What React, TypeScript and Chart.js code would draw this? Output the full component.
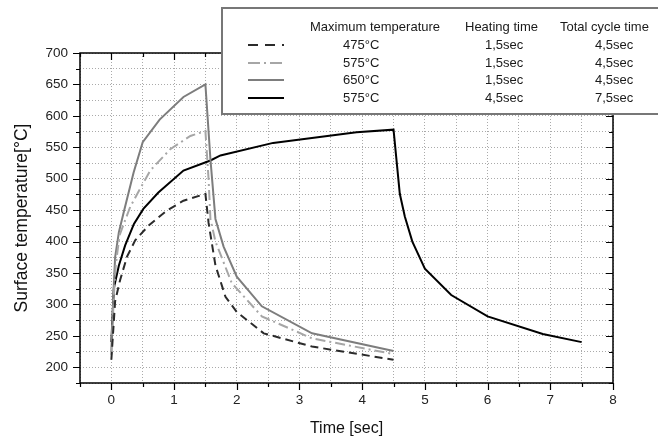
import React, { useEffect, useRef } from "react";
import { Chart, registerables } from "chart.js";

Chart.register(...registerables);

// ---- data ----
const time475 = [0, 0.06, 0.14, 0.25, 0.38, 0.6, 0.88, 1.15, 1.5, 1.55, 1.66, 1.82, 2.0, 2.43, 3.2, 4.5];
const temp475 = [212, 305, 339, 376, 402, 426, 449, 465, 476, 430, 362, 312, 288, 254, 233, 212];

const time575a = [0, 0.04, 0.07, 0.13, 0.3, 0.43, 0.62, 0.94, 1.26, 1.5, 1.55, 1.58, 1.66, 1.92, 2.4, 3.2, 4.5];
const temp575a = [220, 315, 362, 410, 455, 479, 513, 547, 568, 576, 500, 436, 400, 334, 281, 246, 221];

const time650 = [0, 0.03, 0.06, 0.12, 0.2, 0.355, 0.5, 0.77, 1.15, 1.5, 1.58, 1.66, 1.79, 2.0, 2.4, 3.2, 4.5];
const temp650 = [225, 310, 375, 415, 448, 510, 558, 594, 630, 650, 531, 436, 392, 344, 297, 254, 226];

const time575b = [0, 0.04, 0.12, 0.22, 0.36, 0.51, 0.75, 1.15, 1.58, 1.74, 2.58, 3.91, 4.5, 4.6, 4.68, 4.8, 5.0, 5.42, 6.0, 6.88, 7.5];
const temp575b = [240, 326, 362, 394, 428, 452, 478, 513, 529, 537, 557, 574, 578, 476, 440, 400, 357, 315, 281, 253, 240];

const legendHeader = ["Maximum temperature", "Heating time", "Total cycle time"];
const legendMaxTemp = ["475°C", "575°C", "650°C", "575°C"];
const legendHeating = ["1,5sec", "1,5sec", "1,5sec", "4,5sec"];
const legendCycle = ["4,5sec", "4,5sec", "4,5sec", "7,5sec"];

const xTitle = "Time [sec]";
const yTitle = "Surface temperature[°C]";

const FONT = "'Liberation Sans', Arial, sans-serif";

const seriesStyles = [
  { color: "#2b2b2b", dash: [8, 5] },
  { color: "#a6a6a6", dash: [10, 4, 2, 4] },
  { color: "#7d7d7d", dash: [] as number[] },
  { color: "#000000", dash: [] as number[] },
];

function pts(xs: number[], ys: number[]) {
  return xs.map((x, i) => ({ x, y: ys[i] }));
}

const framePlugin = {
  id: "frame",
  afterDatasetsDraw(chart: any) {
    const { ctx, chartArea } = chart;
    const { left, right, top, bottom } = chartArea;
    const xs = chart.scales.x;
    const ys = chart.scales.y;
    ctx.save();
    ctx.strokeStyle = "#000";
    ctx.lineWidth = 1.5;
    ctx.setLineDash([]);
    ctx.strokeRect(left, top, right - left, bottom - top);
    ctx.lineWidth = 1.2;
    ctx.beginPath();
    for (let v = -0.5; v <= 8.0001; v += 0.5) {
      const px = Math.round(xs.getPixelForValue(v)) + 0.5;
      const major = Math.abs(v - Math.round(v)) < 1e-6;
      const len = major ? 7 : 4;
      ctx.moveTo(px, bottom);
      ctx.lineTo(px, bottom + len);
      ctx.moveTo(px, top);
      ctx.lineTo(px, top + len);
    }
    for (let v = 175; v <= 700; v += 25) {
      const py = Math.round(ys.getPixelForValue(v)) + 0.5;
      const major = v % 50 === 0;
      const len = major ? 7 : 4;
      ctx.moveTo(left, py);
      ctx.lineTo(left - len, py);
      ctx.moveTo(right, py);
      ctx.lineTo(right - len, py);
    }
    ctx.stroke();
    ctx.restore();
  },
  afterDraw(chart: any) {
    const { ctx } = chart;
    ctx.save();
    // legend box
    ctx.fillStyle = "#fff";
    ctx.fillRect(222, 8, 460, 106);
    ctx.strokeStyle = "#777";
    ctx.lineWidth = 2;
    ctx.setLineDash([]);
    ctx.strokeRect(222, 8, 460, 106);
    ctx.fillStyle = "#1a1a1a";
    ctx.font = `13px ${FONT}`;
    ctx.textBaseline = "middle";
    ctx.textAlign = "left";
    ctx.fillText(legendHeader[0], 310, 27);
    ctx.fillText(legendHeader[1], 465, 27);
    ctx.fillText(legendHeader[2], 560, 27);
    const rowY = [45, 63, 80, 98];
    for (let i = 0; i < 4; i++) {
      const y = rowY[i];
      const st = seriesStyles[i];
      ctx.strokeStyle = st.color;
      ctx.lineWidth = 2;
      ctx.setLineDash(i === 0 ? [10, 7] : i === 1 ? [12, 4, 2, 4] : []);
      ctx.beginPath();
      ctx.moveTo(248, y);
      ctx.lineTo(284, y);
      ctx.stroke();
      ctx.setLineDash([]);
      ctx.fillText(legendMaxTemp[i], 343, y);
      ctx.fillText(legendHeating[i], 485, y);
      ctx.fillText(legendCycle[i], 595, y);
    }
    ctx.restore();
  },
};

export default function App() {
  const ref = useRef<HTMLCanvasElement | null>(null);
  useEffect(() => {
    if (!ref.current) return;
    const allX = [time475, time575a, time650, time575b];
    const allY = [temp475, temp575a, temp650, temp575b];
    const chart = new Chart(ref.current, {
      type: "line",
      data: {
        datasets: allX.map((xs, i) => ({
          label: legendMaxTemp[i],
          data: pts(xs, allY[i]),
          borderColor: seriesStyles[i].color,
          borderDash: seriesStyles[i].dash,
          borderWidth: 2,
          pointRadius: 0,
          tension: 0,
          fill: false,
        })),
      },
      options: {
        responsive: false,
        animation: false,
        layout: { padding: { top: 53, right: 45, left: 0, bottom: 0 } },
        plugins: { legend: { display: false }, tooltip: { enabled: false } },
        scales: {
          x: {
            type: "linear",
            min: -0.5,
            max: 8,
            afterFit: (s: any) => {
              s.height = 61;
            },
            ticks: {
              stepSize: 0.5,
              autoSkip: false,
              maxRotation: 0,
              padding: 9,
              color: "#222",
              font: { family: FONT, size: 13.5 },
              callback: (v: any) => (Math.abs(v - Math.round(v)) < 1e-6 ? String(Math.round(v)) : ""),
            },
            grid: { color: "#aaaaaa", lineWidth: 1, drawTicks: false, borderDash: [1, 2] } as any,
            border: { display: false, dash: [1, 2] },
            title: {
              display: true,
              text: xTitle,
              color: "#111",
              font: { family: FONT, size: 16 },
              padding: { top: 0, bottom: 6 },
            },
          },
          y: {
            type: "linear",
            min: 175,
            max: 700,
            afterFit: (s: any) => {
              s.width = 80;
            },
            ticks: {
              stepSize: 25,
              autoSkip: false,
              padding: 12,
              color: "#222",
              font: { family: FONT, size: 13.5 },
              callback: (v: any) => (v % 50 === 0 ? String(v) : ""),
            },
            grid: { color: "#aaaaaa", lineWidth: 1, drawTicks: false, borderDash: [1, 2] } as any,
            border: { display: false, dash: [1, 2] },
            title: {
              display: true,
              text: yTitle,
              color: "#111",
              font: { family: FONT, size: 17.5 },
              padding: { top: 12, bottom: 0 },
            },
          },
        },
      },
      plugins: [framePlugin],
    });
    return () => chart.destroy();
  }, []);
  return (
    <div style={{ position: "fixed", left: 0, top: 0, width: 658, height: 444, background: "#fff" }}>
      <canvas ref={ref} width={658} height={444} style={{ display: "block" }} />
    </div>
  );
}
